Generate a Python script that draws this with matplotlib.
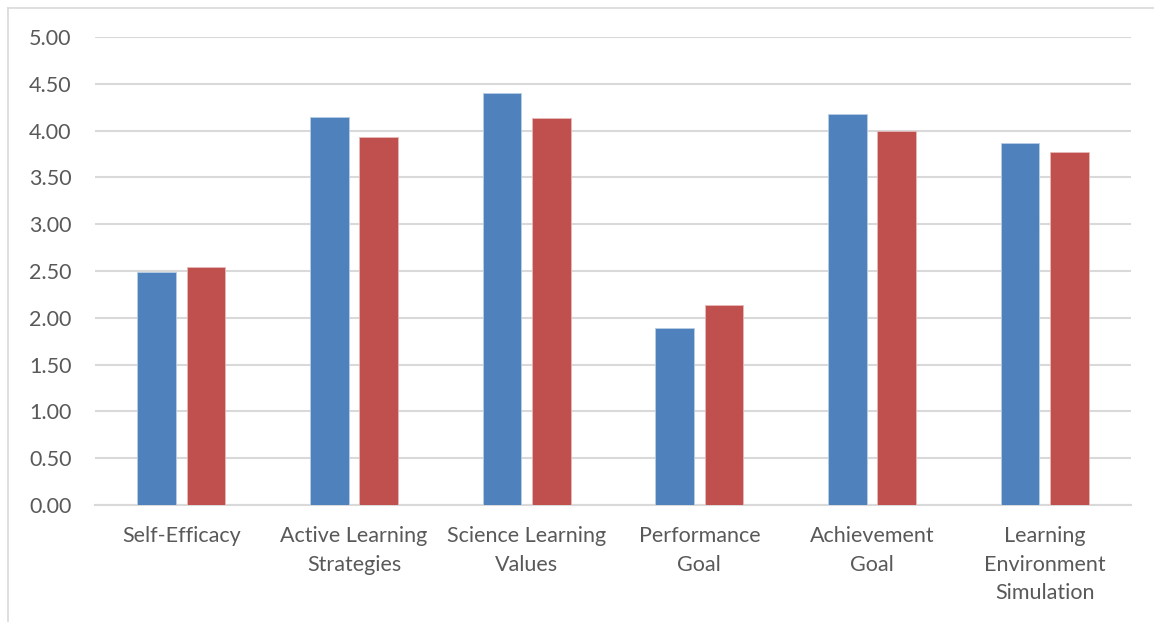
import numpy as np
import matplotlib
matplotlib.use('Agg')
import matplotlib.pyplot as plt
from matplotlib.lines import Line2D

# categories and the two series
categories = ['Self-Efficacy', 'Active Learning\nStrategies', 'Science Learning\nValues',
              'Performance\nGoal', 'Achievement\nGoal', 'Learning\nEnvironment\nSimulation']
series_blue = [2.49, 4.15, 4.40, 1.89, 4.18, 3.87]
series_red = [2.54, 3.93, 4.13, 2.14, 4.00, 3.77]
y_ticks = [0, 0.5, 1.0, 1.5, 2.0, 2.5, 3.0, 3.5, 4.0, 4.5, 5.0]

plt.rcParams['font.family'] = ['Lato', 'DejaVu Sans']

fig = plt.figure(figsize=(11.54, 6.22), dpi=100)
ax = fig.add_axes([95 / 1154, 117 / 622, 1036 / 1154, 468 / 622])

x = np.arange(len(categories))
w = 0.224
off = 0.143
ax.bar(x - off, series_blue, width=w, color='#4F81BD', edgecolor='#b9cde5', linewidth=0.6, zorder=3)
ax.bar(x + off, series_red, width=w, color='#C0504D', edgecolor='#e6b9b8', linewidth=0.6, zorder=3)

ax.set_xlim(-0.5, len(categories) - 0.5)
ax.set_ylim(0, 5)
ax.set_yticks(y_ticks)
ax.set_yticklabels(['%.2f' % v for v in y_ticks])
ax.set_xticks(x)
ax.set_xticklabels(categories, linespacing=1.55)

ax.yaxis.grid(True, color='#d9d9d9', linewidth=1.5, zorder=0)
ax.set_axisbelow(True)
for s in ['top', 'right', 'left']:
    ax.spines[s].set_visible(False)
ax.spines['bottom'].set_color('#d9d9d9')
ax.spines['bottom'].set_linewidth(1.5)

ax.tick_params(axis='both', length=0, colors='#595959', labelsize=15.5)
ax.tick_params(axis='y', pad=17)
ax.tick_params(axis='x', pad=15)

# chart area border (left and top edges visible)
fig.add_artist(Line2D([7.5 / 1154, 7.5 / 1154], [0, 1 - 7.5 / 622], transform=fig.transFigure,
                      color='#d9d9d9', linewidth=1.2))
fig.add_artist(Line2D([7.5 / 1154, 1], [1 - 7.5 / 622, 1 - 7.5 / 622], transform=fig.transFigure,
                      color='#d9d9d9', linewidth=1.2))

fig.savefig('out.png', dpi=100)
